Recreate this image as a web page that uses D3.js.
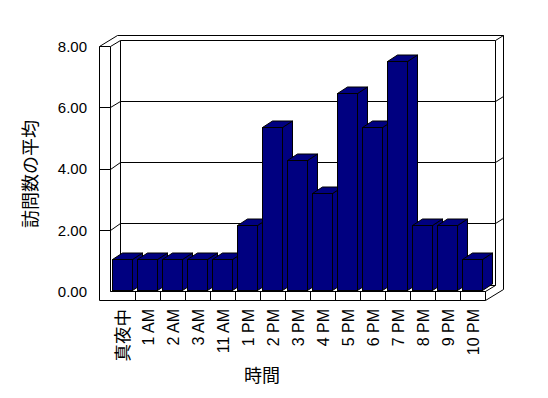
<!DOCTYPE html>
<html><head><meta charset="utf-8">
<script src="https://cdn.jsdelivr.net/npm/d3@7"></script>
<style>
html,body{margin:0;padding:0;background:#fff;}
svg{display:block;}
</style></head>
<body>
<script>
const categories = ["真夜中","1 AM","2 AM","3 AM","11 AM","1 PM","2 PM","3 PM","4 PM","5 PM","6 PM","7 PM","8 PM","9 PM","10 PM"];
const values = [1.05,1.05,1.05,1.05,1.05,2.14,5.37,4.28,3.21,6.45,5.37,7.52,2.14,2.14,1.05];
const yTickValues = [0,2,4,6,8];
const gridValues = [2,4,6];
const yTitle = "訪問数の平均";
const xTitle = "時間";

const W = 548, H = 398;
const svg = d3.select("body").append("svg").attr("width", W).attr("height", H);
svg.append("rect").attr("width", W).attr("height", H).attr("fill", "#fff");

const x = d3.scaleBand().domain(categories).range([110.5, 485.5]);
const y = d3.scaleLinear().domain([0, 8]).range([291.5, 46.5]);

const D = {dx: 10, dy: -6.5};     // depth of plot
const T = {dx: 8, dy: -5};        // back wall thickness
const leftOuter = 99.5, floorBottom = 300.5;
const X0 = x.range()[0], X1 = x.range()[1];
const Y0 = y(0), Y8 = y(8);
const snap = v => Math.round(v - 0.5) + 0.5;

const frame = svg.append("g").attr("stroke", "#000").attr("stroke-width", 1).attr("fill", "none");
function line(x1, y1, x2, y2) {
  frame.append("line").attr("x1", x1).attr("y1", y1).attr("x2", x2).attr("y2", y2);
}
const bx0 = X0 + D.dx, bx1 = X1 + D.dx;            // back wall front face x
const byTop = snap(Y8 + D.dy), byBot = snap(Y0 + D.dy);
const oTop = snap(byTop + T.dy), oRight = bx1 + T.dx;

// left wall front face
line(leftOuter, Y8, X0, Y8);
line(leftOuter, Y8, leftOuter, floorBottom);
line(X0, Y8, X0, Y0);
// top outer and inner diagonals
line(leftOuter, Y8, bx0 - 3 + 0, oTop);
line(X0, Y8, bx0, byTop);
line(bx0 - 3, oTop, oRight, oTop);
line(bx0, byTop, bx1, byTop);
line(bx1, byTop, oRight, oTop);
line(bx0, byTop, bx0, byBot);
line(bx1, byTop, bx1, byBot);
line(oRight, oTop, oRight, snap(floorBottom + D.dy + T.dy));
// floor
line(bx0, byBot, bx1, byBot);
line(X0, Y0, X1, Y0);
line(leftOuter, floorBottom, X1, floorBottom);
line(X1, Y0, X1, floorBottom);
line(X1, Y0, bx1, byBot);
line(X1, floorBottom, oRight, snap(floorBottom + D.dy + T.dy));
// gridlines
gridValues.forEach(v => {
  const yf = snap(y(v)), yb = snap(y(v) + D.dy);
  line(leftOuter, yf, X0, yf);
  line(X0, yf, bx0, yb);
  line(bx0, yb, bx1, yb);
  line(bx1, yb, oRight, snap(yb + T.dy));
});
// category ticks on floor front
categories.slice(1).forEach(c => line(x(c), Y0, x(c), floorBottom));

// bars
const barW = 20, BD = {dx: 10, dy: -6.5};
const bars = svg.append("g").attr("stroke", "#000").attr("stroke-width", 1).attr("fill", "#000080");
categories.forEach((c, i) => {
  const x0 = x(c) + 2, x1 = x0 + barW;
  const yt = snap(y(values[i])), yb = Y0 - 1;
  const g = bars.append("g");
  g.append("polygon").attr("points", [[x1, yt], [x1 + BD.dx, yt + BD.dy], [x1 + BD.dx, yb + BD.dy], [x1, yb]].join(" "));
  g.append("polygon").attr("points", [[x0, yt], [x0 + BD.dx, yt + BD.dy], [x1 + BD.dx, yt + BD.dy], [x1, yt]].join(" "));
  g.append("rect").attr("x", x0).attr("y", yt).attr("width", barW).attr("height", yb - yt);
});
// redraw floor front line over bars
line(X0, Y0, X1, Y0);

// y tick labels
const fontLatin = "'Liberation Sans', Arial, 'Noto Sans CJK JP', sans-serif";
svg.append("g").selectAll("text").data(yTickValues).join("text")
  .attr("x", 87).attr("y", d => y(d)).attr("dy", "0.36em")
  .attr("text-anchor", "end").attr("font-family", fontLatin).attr("font-size", 15)
  .attr("fill", "#000").text(d => d3.format(".2f")(d));

// category labels
svg.append("g").selectAll("text").data(categories).join("text")
  .attr("transform", d => `translate(${x(d) + x.bandwidth() / 2},309) rotate(-90)`)
  .attr("dy", "0.36em").attr("text-anchor", "end")
  .attr("font-family", fontLatin)
  .attr("font-size", d => /[^\x00-\x7f]/.test(d) ? 17.5 : 16)
  .attr("fill", "#000").text(d => d);

// axis titles
svg.append("text").attr("transform", "translate(31,174) rotate(-90)")
  .attr("dy", "0.36em").attr("text-anchor", "middle")
  .attr("font-family", "'Noto Sans CJK JP', sans-serif").attr("font-size", 18)
  .attr("fill", "#000").text(yTitle);
svg.append("text").attr("x", 262).attr("y", 382).attr("text-anchor", "middle")
  .attr("font-family", "'Noto Sans CJK JP', sans-serif").attr("font-size", 18)
  .attr("fill", "#000").text(xTitle);
</script>
</body></html>
